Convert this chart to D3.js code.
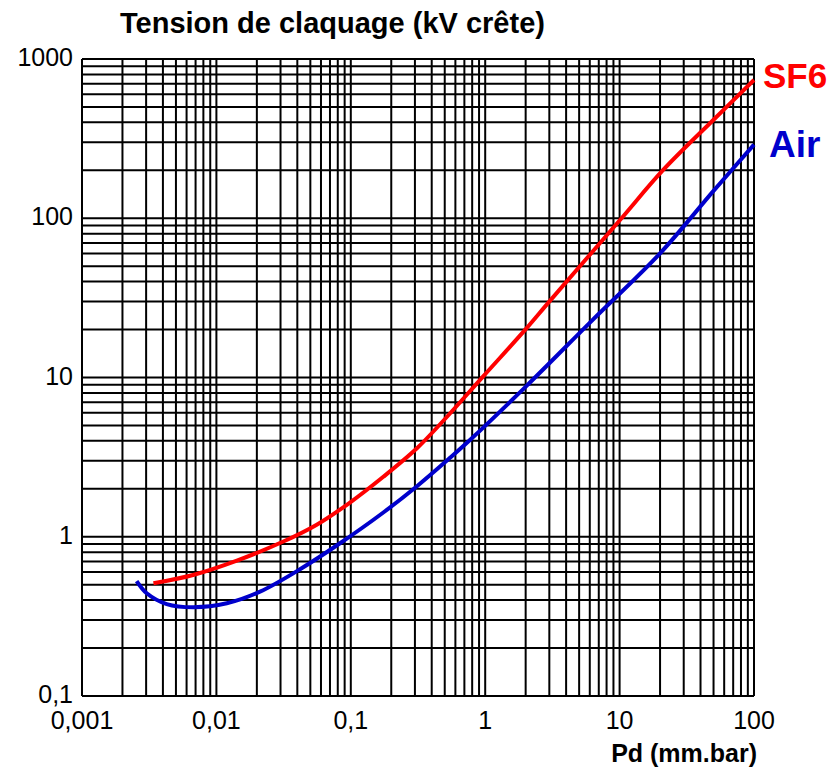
<!DOCTYPE html>
<html><head><meta charset="utf-8">
<script src="https://cdn.jsdelivr.net/npm/d3@7"></script>
<style>body{margin:0;background:#fff}svg{display:block}text{font-family:"Liberation Sans",Arial,sans-serif}</style>
</head><body>
<svg id="c" width="833" height="771"></svg>
<script>
const xTicks = [0.001, 0.01, 0.1, 1, 10, 100];
const xTickLabels = ["0,001", "0,01", "0,1", "1", "10", "100"];
const yTicks = [0.1, 1, 10, 100, 1000];
const yTickLabels = ["0,1", "1", "10", "100", "1000"];

const sf6Pd = [0.0034, 0.0067, 0.0142, 0.0315, 0.0558, 0.0986, 0.1746, 0.309, 0.488, 0.97, 1.98, 3.03, 10.07, 21.1, 49.8, 100];
const sf6V  = [0.51, 0.575, 0.708, 0.933, 1.19, 1.64, 2.38, 3.58, 5.35, 10.2, 19.9, 30.3, 97.5, 201, 414, 738];
const airPd = [0.00255, 0.00303, 0.00427, 0.00673, 0.01195, 0.0211, 0.0419, 0.0831, 0.1746, 0.309, 0.547, 0.77, 2.04, 6.2, 20, 49.8, 100];
const airV  = [0.527, 0.442, 0.378, 0.361, 0.382, 0.452, 0.625, 0.91, 1.42, 2.07, 3.13, 4.05, 8.9, 22.7, 60.2, 148, 290];

const L = 82, R = 754, T = 59, B = 696;
const svg = d3.select("#c");
const x = d3.scaleLog().domain([0.001, 100]).range([L, R]);
const y = d3.scaleLog().domain([0.1, 1000]).range([B, T]);

// grid
const minor = v => { const out = []; for (let d = v[0]; d < v[1] * 0.999; d *= 10) for (let k = 1; k <= 9; k++) out.push(d * k); out.push(v[1]); return out; };
const xg = minor(x.domain()), yg = minor(y.domain());
const g = svg.append("g").attr("stroke", "#000").attr("stroke-width", 2);
g.selectAll(".vx").data(xg).join("line").attr("x1", d => x(d)).attr("x2", d => x(d)).attr("y1", T).attr("y2", B);
g.selectAll(".hy").data(yg).join("line").attr("y1", d => y(d)).attr("y2", d => y(d)).attr("x1", L).attr("x2", R);

// tick labels
svg.selectAll(".xl").data(xTicks).join("text").attr("x", d => x(d)).attr("y", 729)
  .attr("text-anchor", "middle").attr("font-size", 25).text((d, i) => xTickLabels[i]);
svg.selectAll(".yl").data(yTicks).join("text").attr("x", 73).attr("y", d => y(d) + 7)
  .attr("text-anchor", "end").attr("font-size", 25).text((d, i) => yTickLabels[i]);

// curves
const line = d3.line().x(d => x(d[0])).y(d => y(d[1])).curve(d3.curveCatmullRom.alpha(0.5));
svg.append("path").datum(d3.zip(airPd, airV)).attr("d", line).attr("fill", "none").attr("stroke", "#0000cc").attr("stroke-width", 4);
svg.append("path").datum(d3.zip(sf6Pd, sf6V)).attr("d", line).attr("fill", "none").attr("stroke", "#ff0000").attr("stroke-width", 4);

// titles
svg.append("text").attr("x", 120).attr("y", 33).attr("font-size", 29).attr("font-weight", "bold").text("Tension de claquage (kV crête)");
svg.append("text").attr("x", 757).attr("y", 762).attr("text-anchor", "end").attr("font-size", 25).attr("font-weight", "bold").text("Pd (mm.bar)");
svg.append("text").attr("x", 763).attr("y", 88).attr("font-size", 35).attr("font-weight", "bold").attr("fill", "#ff0000").text("SF6");
svg.append("text").attr("x", 769).attr("y", 157).attr("font-size", 37).attr("font-weight", "bold").attr("fill", "#0000cc").text("Air");
</script>
</body></html>
